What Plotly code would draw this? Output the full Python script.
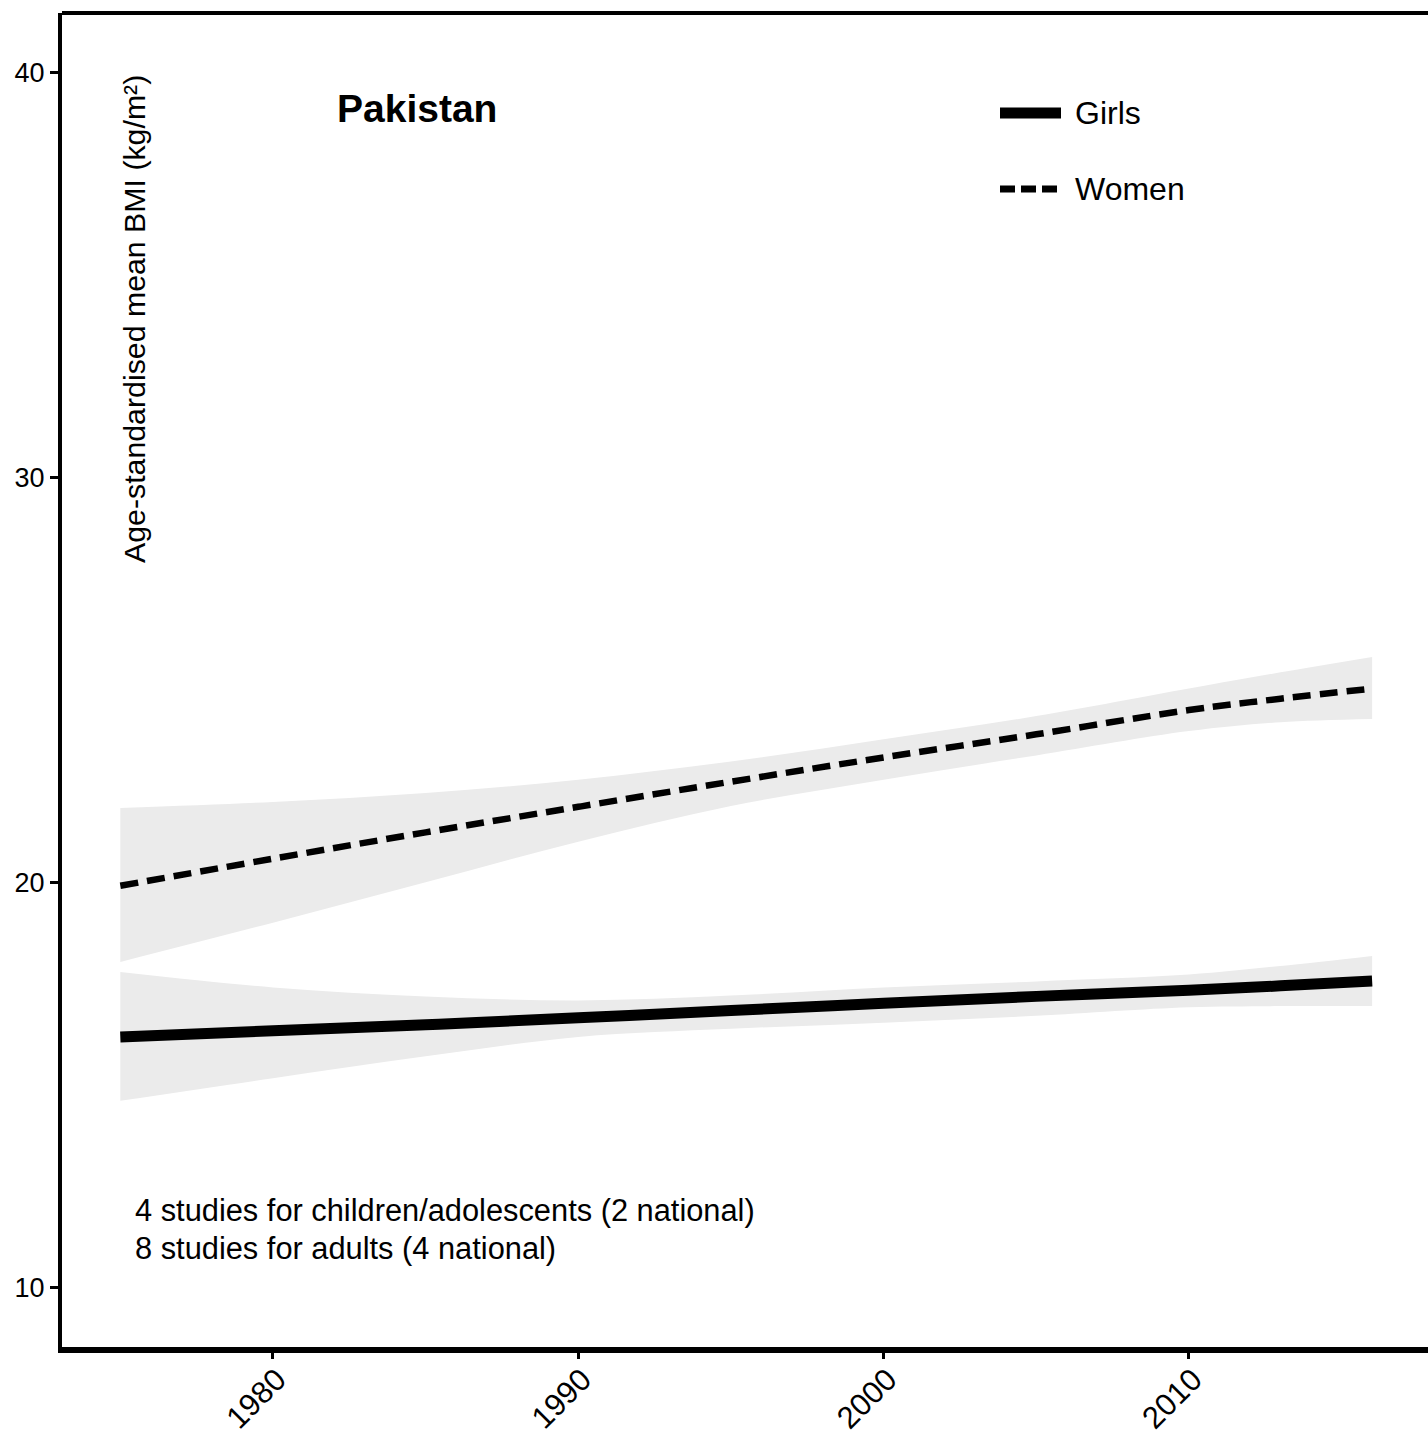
import plotly.graph_objects as go

# ---- data ----
years = [1975, 1980, 1985, 1990, 1995, 2000, 2005, 2010, 2013, 2016]

women_mean = [19.93, 20.60, 21.25, 21.88, 22.50, 23.10, 23.67, 24.27, 24.55, 24.80]
women_upper = [21.85, 22.00, 22.22, 22.55, 23.00, 23.55, 24.12, 24.80, 25.20, 25.58]
women_lower = [18.05, 19.02, 20.02, 21.02, 21.90, 22.55, 23.15, 23.75, 23.97, 24.05]

girls_mean = [16.20, 16.35, 16.50, 16.67, 16.85, 17.03, 17.20, 17.35, 17.46, 17.58]
girls_upper = [17.80, 17.42, 17.20, 17.10, 17.22, 17.42, 17.57, 17.74, 17.95, 18.20]
girls_lower = [14.62, 15.18, 15.72, 16.20, 16.40, 16.55, 16.72, 16.93, 16.96, 16.96]

x_ticks = [1980, 1990, 2000, 2010]
y_ticks = [10, 20, 30, 40]

country = "Pakistan"
y_title = "Age-standardised mean BMI (kg/m²)"
series_names = ["Girls", "Women"]
study_notes = ["4 studies for children/adolescents (2 national)",
               "8 studies for adults (4 national)"]

FONT = "Liberation Sans, Arial, Helvetica, sans-serif"
BAND = "rgb(235,235,235)"

fig = go.Figure()

# confidence bands
for lo, hi in [(women_lower, women_upper), (girls_lower, girls_upper)]:
    fig.add_trace(go.Scatter(x=years, y=lo, mode="lines", line=dict(width=0, color=BAND),
                             line_shape="spline", showlegend=False, hoverinfo="skip"))
    fig.add_trace(go.Scatter(x=years, y=hi, mode="lines", line=dict(width=0, color=BAND),
                             line_shape="spline", fill="tonexty", fillcolor=BAND,
                             showlegend=False, hoverinfo="skip"))

# mean lines
fig.add_trace(go.Scatter(x=years, y=girls_mean, mode="lines", name=series_names[0],
                         line=dict(color="black", width=11), line_shape="spline",
                         showlegend=False))
fig.add_trace(go.Scatter(x=years, y=women_mean, mode="lines", name=series_names[1],
                         line=dict(color="black", width=6.5, dash="18px,9px"),
                         line_shape="spline", showlegend=False))

# body margin is removed by the post script, so the figure fills the window
W, H = 1428, 1453
L, R, T = 62, 0, 13
PLOT_BOTTOM = 1347
B = H - PLOT_BOTTOM
pw, ph = W - L - R, H - T - B


def px_x(px):
    return (px - L) / pw


def px_y(py):
    return 1 - (py - T) / ph


annotations = []
# country title
annotations.append(dict(x=px_x(335), y=px_y(108), xref="paper", yref="paper",
                        text="<b>%s</b>" % country, showarrow=False, xanchor="left",
                        yanchor="middle", font=dict(family=FONT, size=39, color="black")))
# y title (inside the plot)
annotations.append(dict(x=px_x(135), y=px_y(319), xref="paper", yref="paper",
                        text=y_title, textangle=-90, showarrow=False, xanchor="center",
                        yanchor="middle", font=dict(family=FONT, size=30.3, color="black")))
# study notes
for i, note in enumerate(study_notes):
    annotations.append(dict(x=px_x(133), y=px_y(1210 + 38 * i), xref="paper", yref="paper",
                            text=note, showarrow=False, xanchor="left", yanchor="middle",
                            font=dict(family=FONT, size=30.8, color="black")))
# legend labels
legend_y = [113, 189]
for name, ly in zip(series_names, legend_y):
    annotations.append(dict(x=px_x(1073), y=px_y(ly), xref="paper", yref="paper",
                            text=name, showarrow=False, xanchor="left", yanchor="middle",
                            font=dict(family=FONT, size=32, color="black")))

shapes = [
    # top border
    dict(type="line", xref="paper", yref="paper", x0=0, x1=1.01, y0=1, y1=1,
         line=dict(color="black", width=4)),
    # legend samples
    dict(type="line", xref="paper", yref="paper", x0=px_x(1000), x1=px_x(1061),
         y0=px_y(legend_y[0]), y1=px_y(legend_y[0]), line=dict(color="black", width=11)),
    dict(type="line", xref="paper", yref="paper", x0=px_x(1000), x1=px_x(1061),
         y0=px_y(legend_y[1]), y1=px_y(legend_y[1]),
         line=dict(color="black", width=7, dash="15px,6px")),
]

fig.update_layout(
    width=W, height=H,
    margin=dict(l=L, r=R, t=T, b=B, pad=0),
    paper_bgcolor="white", plot_bgcolor="white",
    font=dict(family=FONT, color="black"),
    showlegend=False,
    annotations=annotations,
    shapes=shapes,
)

fig.update_xaxes(range=[1973.09, 2017.83], tickvals=x_ticks, ticktext=[str(t) for t in x_ticks],
                 tickangle=-45, ticks="outside", ticklen=6, tickwidth=3, tickcolor="black",
                 showline=True, linecolor="black", linewidth=6, showgrid=False, zeroline=False,
                 ticklabelstandoff=-10, ticklabelshift=4,
                 tickfont=dict(family=FONT, size=31, color="black"))
fig.update_yaxes(range=[8.543, 41.48], tickvals=y_ticks, ticktext=[str(t) for t in y_ticks],
                 ticks="outside", ticklen=8, tickwidth=3, tickcolor="black",
                 showline=True, linecolor="black", linewidth=4, showgrid=False, zeroline=False,
                 tickfont=dict(family=FONT, size=27, color="black"))

fig.write_html(
    "out.html",
    config={"displayModeBar": False},
    post_script="document.body.style.margin='0px';document.body.style.overflow='hidden';",
)
